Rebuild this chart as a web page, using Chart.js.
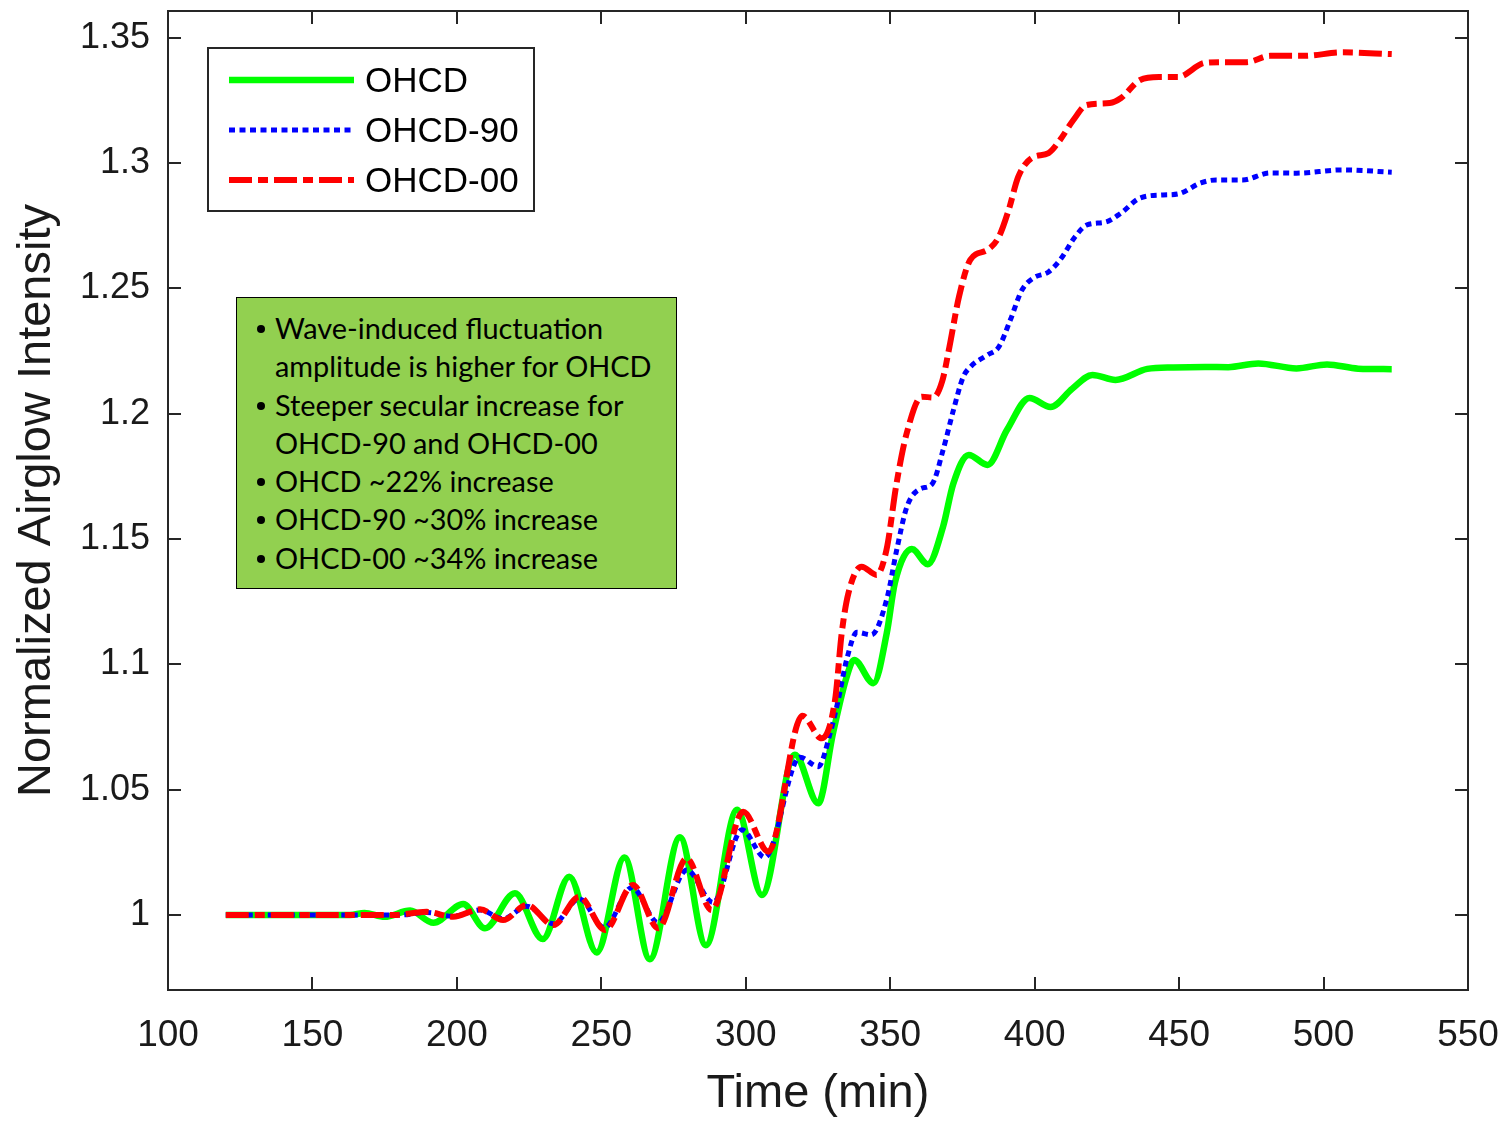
<!DOCTYPE html>
<html>
<head>
<meta charset="utf-8">
<script src="https://cdn.jsdelivr.net/npm/chart.js@4.4.1/dist/chart.umd.min.js"></script>
<style>
  body { margin: 0; background: #fff; }
  #wrap { position: relative; width: 1504px; height: 1122px; }
  #note {
    position: absolute; left: 236px; top: 297px; width: 441px; height: 292px;
    background: #92d050; border: 1.5px solid #000; box-sizing: border-box;
    font-family: Lato, "Open Sans", sans-serif; color: #000; padding-top: 11px;
  }
  #note .item { position: relative; padding-left: 38px; line-height: 38.3px; white-space: nowrap; }
  #note .item::before {
    content: ''; position: absolute; left: 20px; top: 16px;
    width: 8px; height: 8px; border-radius: 50%; background: #000;
  }
</style>
</head>
<body>
<div id="wrap">
  <canvas id="airglowChart" width="1504" height="1122"></canvas>
  <div id="note">
    <div class="item">Wave-induced fluctuation<br>amplitude is higher for OHCD</div>
    <div class="item">Steeper secular increase for<br>OHCD-90 and OHCD-00</div>
    <div class="item">OHCD ~22% increase</div>
    <div class="item">OHCD-90 ~30% increase</div>
    <div class="item">OHCD-00 ~34% increase</div>
  </div>
</div>
<script>
// Time (min) and normalized intensity
const timeOHCD = [120,163,168,175,183.8,191.9,202.2,209.7,220.1,229.7,238.9,248.4,258,266.8,277.2,286.2,297,305.6,317,325.1,330.2,334.9,337.5,344.2,348.8,351.6,357.5,363,368.3,371.8,377.2,383.7,390.4,398.2,405.5,413,420,428,439,448,459,467,477.4,490.6,501.2,512,523.6];
const valOHCD = [1,1,1.0008,0.9993,1.0018,0.9969,1.0044,0.9947,1.0087,0.9904,1.0153,0.9851,1.023,0.9824,1.031,0.988,1.042,1.008,1.064,1.0446,1.0726,1.095,1.1018,1.0925,1.1125,1.1325,1.146,1.140,1.155,1.172,1.1836,1.1796,1.1935,1.2063,1.2027,1.210,1.2155,1.2135,1.2179,1.2185,1.2187,1.2186,1.2201,1.2181,1.2197,1.218,1.2178];

const timeOHCD90 = [120,180,189.5,198.7,208,216,224.2,233.4,242.4,251,260.6,269.6,279.6,288.7,298.7,306.6,318.8,325.1,329.2,332,334.9,338.5,343.5,348.8,352.3,355.8,360.3,364.5,368.4,372,375.2,378,383.7,387.6,391.6,395.6,399.6,404.8,408.8,414,418,424.6,429.9,436.5,444.4,449.6,457.5,462.8,472,481.5,490.6,506.5,523.6];
const valOHCD90 = [1,1,1.001,0.9995,1.002,0.9985,1.0035,0.9965,1.0065,0.995,1.011,0.997,1.018,1.005,1.034,1.023,1.063,1.0592,1.0725,1.0858,1.1018,1.1128,1.1118,1.126,1.146,1.163,1.170,1.172,1.186,1.202,1.2145,1.219,1.2235,1.2267,1.2375,1.2494,1.2542,1.2566,1.2614,1.2706,1.2753,1.2765,1.2801,1.2861,1.2873,1.2877,1.2921,1.2933,1.2933,1.2961,1.296,1.2973,1.2964];

const timeOHCD00 = [120,178,189.5,198.7,208,216,224.2,233.4,242.4,251.3,260.9,269.7,279.5,288.2,299.1,307.8,319.6,326.3,330.9,333.2,335.5,340.1,345.3,348.7,352.2,355.7,360.9,364.9,368,370.5,373.8,377.7,383.7,387.6,391,394.3,398.9,404.8,408.8,413.4,418,426,429.9,436.5,443,449.6,458.9,465.5,473.4,481.5,493.3,506.5,523.6];
const valOHCD00 = [1,1,1.0013,0.9993,1.0023,0.998,1.004,0.996,1.0073,0.994,1.012,0.9947,1.0226,1.002,1.0412,1.0253,1.0795,1.0705,1.0858,1.1124,1.1283,1.139,1.1357,1.1457,1.1723,1.1922,1.2068,1.2065,1.213,1.2267,1.2467,1.2614,1.2654,1.2706,1.2813,1.2945,1.302,1.304,1.3093,1.3172,1.3232,1.324,1.326,1.3332,1.3344,1.3344,1.340,1.3403,1.3403,1.3428,1.3428,1.3442,1.3435];

const xTicks = [100,150,200,250,300,350,400,450,500,550];
const yTicks = [1,1.05,1.1,1.15,1.2,1.25,1.3,1.35];

function toPoints(t, v) {
  return t.map((x, i) => ({ x: x, y: v[i] }));
}

//Fit the note font so the longest line has the same width as in the figure
const note = document.getElementById('note');
const mctx = document.createElement('canvas').getContext('2d');
mctx.font = '100px Lato';
const wLine = mctx.measureText('amplitude is higher for OHCD').width;
note.style.fontSize = (100 * 378 / wLine).toFixed(2) + 'px';

const tickFont = { family: 'Liberation Sans, Arial, sans-serif' };
const textColor = '#1a1a1a';

//Frame, inward ticks, axis titles and the legend box
const framePlugin = {
  id: 'frame',
  afterDatasetsDraw(chart) {
    const { ctx, chartArea: a, scales: { x, y } } = chart;
    ctx.save();
    ctx.strokeStyle = '#262626';
    ctx.lineWidth = 2;
    ctx.setLineDash([]);
    ctx.strokeRect(a.left, a.top, a.right - a.left, a.bottom - a.top);
    ctx.beginPath();
    xTicks.forEach(v => {
      const px = Math.round(x.getPixelForValue(v));
      ctx.moveTo(px, a.bottom); ctx.lineTo(px, a.bottom - 13);
      ctx.moveTo(px, a.top); ctx.lineTo(px, a.top + 13);
    });
    yTicks.forEach(v => {
      const py = Math.round(y.getPixelForValue(v));
      ctx.moveTo(a.left, py); ctx.lineTo(a.left + 13, py);
      ctx.moveTo(a.right, py); ctx.lineTo(a.right - 13, py);
    });
    ctx.stroke();

    // axis titles
    ctx.fillStyle = textColor;
    ctx.textAlign = 'center';
    ctx.textBaseline = 'alphabetic';
    ctx.font = '47px "Liberation Sans", Arial, sans-serif';
    ctx.fillText('Time (min)', (a.left + a.right) / 2, 1107);
    ctx.save();
    ctx.translate(50, (a.top + a.bottom) / 2);
    ctx.rotate(-Math.PI / 2);
    ctx.fillText('Normalized Airglow Intensity', 0, 0);
    ctx.restore();

    // legend
    ctx.fillStyle = '#fff';
    ctx.fillRect(208, 48, 326, 163);
    ctx.strokeStyle = '#262626';
    ctx.lineWidth = 2;
    ctx.strokeRect(208, 48, 326, 163);
    const rows = [80, 130, 180];
    chart.data.datasets.forEach((ds, i) => {
      ctx.beginPath();
      ctx.strokeStyle = ds.borderColor;
      ctx.lineWidth = ds.borderWidth;
      ctx.setLineDash(ds.borderDash || []);
      ctx.moveTo(229, rows[i]);
      ctx.lineTo(354, rows[i]);
      ctx.stroke();
      ctx.setLineDash([]);
      ctx.fillStyle = '#000';
      ctx.textAlign = 'left';
      ctx.textBaseline = 'middle';
      ctx.font = '35px "Liberation Sans", Arial, sans-serif';
      ctx.fillText(ds.label, 365, rows[i] + 2);
    });
    ctx.restore();
  }
};

window.addEventListener('DOMContentLoaded', function () {
  const ctx = document.getElementById('airglowChart').getContext('2d');

  new Chart(ctx, {
    type: 'line',
    data: {
      datasets: [
        {
          label: 'OHCD',
          data: toPoints(timeOHCD, valOHCD),
          borderColor: '#00ff00',
          borderWidth: 6.5,
          order: 2
        },
        {
          label: 'OHCD-90',
          data: toPoints(timeOHCD90, valOHCD90),
          borderColor: '#0000ff',
          borderWidth: 5,
          borderDash: [6, 4.5],
          order: 1
        },
        {
          label: 'OHCD-00',
          data: toPoints(timeOHCD00, valOHCD00),
          borderColor: '#ff0000',
          borderWidth: 6,
          borderDash: [23, 6, 10, 6],
          order: 0
        }
      ]
    },
    options: {
      responsive: false,
      animation: false,
      layout: { padding: { top: 11, right: 36, left: 0, bottom: 0 } },
      elements: {
        point: { radius: 0 },
        line: { cubicInterpolationMode: 'monotone', borderCapStyle: 'butt', fill: false }
      },
      plugins: {
        legend: { display: false },
        tooltip: { enabled: false }
      },
      scales: {
        x: {
          type: 'linear',
          min: 100,
          max: 550,
          afterBuildTicks: s => { s.ticks = xTicks.map(v => ({ value: v })); },
          afterFit: s => { s.height = 132; s.paddingLeft = 0; s.paddingRight = 0; },
          grid: { display: false, drawTicks: false },
          border: { display: false },
          ticks: {
            padding: 24,
            autoSkip: false,
            maxRotation: 0,
            color: textColor,
            font: Object.assign({ size: 37 }, tickFont)
          }
        },
        y: {
          type: 'linear',
          min: 0.9701,
          max: 1.3607,
          afterBuildTicks: s => { s.ticks = yTicks.map(v => ({ value: v })); },
          afterFit: s => { s.width = 168; s.paddingTop = 0; s.paddingBottom = 0; },
          grid: { display: false, drawTicks: false },
          border: { display: false },
          ticks: {
            padding: 18,
            autoSkip: false,
            color: textColor,
            font: Object.assign({ size: 36 }, tickFont),
            callback: v => String(+v.toFixed(2))
          }
        }
      }
    },
    plugins: [framePlugin]
  });
});
</script>
</body>
</html>
